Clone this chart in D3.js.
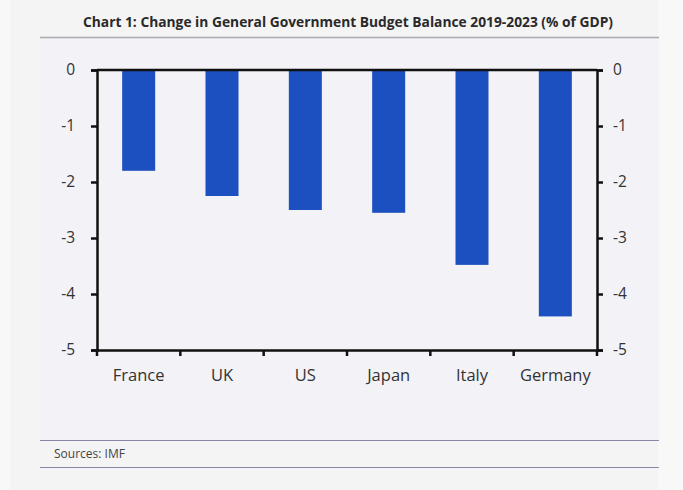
<!DOCTYPE html>
<html><head><meta charset="utf-8">
<script src="https://cdn.jsdelivr.net/npm/d3@7"></script>
<style>
html,body{margin:0;padding:0;background:#f8f8f8;}
svg{display:block;}
text{font-family:"Open Sans","Noto Sans",sans-serif;}
</style></head>
<body><svg id="c" width="683" height="490"></svg>
<script>
const categories = ["France","UK","US","Japan","Italy","Germany"];
const values = [-1.8,-2.25,-2.5,-2.55,-3.48,-4.4];
const yTicks = [0,-1,-2,-3,-4,-5];
const title = "Chart 1: Change in General Government Budget Balance 2019-2023 (% of GDP)";
const source = "Sources: IMF";

const svg = d3.select("#c");
const W=683,H=490;
svg.append("rect").attr("width",W).attr("height",H).attr("fill","#f8f8f8");
svg.append("rect").attr("x",10).attr("y",0).attr("width",648).attr("height",H).attr("fill","#f4f4f5");
svg.append("rect").attr("x",40).attr("y",38).attr("width",619).attr("height",402).attr("fill","#f2f2f7");

svg.append("text").attr("x",348).attr("y",27).attr("text-anchor","middle")
  .attr("font-size",13.8).attr("font-weight","bold").attr("fill","#2a2a2a")
  .attr("textLength",530).attr("lengthAdjust","spacingAndGlyphs")
  .text(title);
svg.append("line").attr("x1",40).attr("x2",659).attr("y1",37.5).attr("y2",37.5)
  .attr("stroke","#a9a9ae").attr("stroke-width",1.5);

const L=97,R=597,T=70,B=350;
const x = d3.scaleBand().domain(categories).range([L,R]).paddingInner(0).paddingOuter(0);
const y = d3.scaleLinear().domain([0,-5]).range([T,B]);
const bw = 33;

svg.append("g").selectAll("rect").data(values).join("rect")
  .attr("x",(d,i)=>x(categories[i])+x.bandwidth()/2-bw/2)
  .attr("width",bw)
  .attr("y",d=>y(0))
  .attr("height",d=>y(d)-y(0))
  .attr("fill","#1c4fbf");

// top line
svg.append("line").attr("x1",L).attr("x2",R).attr("y1",T).attr("y2",T).attr("stroke","#111").attr("stroke-width",2.5);

const fmt = d=>d===0?"0":"-"+Math.abs(d);
const yl = svg.append("g").attr("transform",`translate(${L},0)`)
  .call(d3.axisLeft(y).tickValues(yTicks).tickFormat(fmt).tickSize(6).tickPadding(16));
const yr = svg.append("g").attr("transform",`translate(${R},0)`)
  .call(d3.axisRight(y).tickValues(yTicks).tickFormat(fmt).tickSize(6).tickPadding(10));
const xa = svg.append("g").attr("transform",`translate(0,${B})`)
  .call(d3.axisBottom(x).tickSize(0).tickPadding(19));
// x ticks at band boundaries
const bounds = categories.map(c=>x(c)).concat([R]);
svg.append("g").selectAll("line").data(bounds).join("line")
  .attr("x1",d=>d).attr("x2",d=>d).attr("y1",B).attr("y2",B+6)
  .attr("stroke","#111").attr("stroke-width",2.5);

[yl,yr,xa].forEach(g=>{
  g.select(".domain").attr("stroke","#111").attr("stroke-width",2.5);
  g.selectAll(".tick line").attr("stroke","#111").attr("stroke-width",2.5);
  g.selectAll("text").attr("font-size",15.5).attr("fill","#333")
   .attr("font-family","'Open Sans',sans-serif");
});
xa.selectAll("text").attr("font-size",16.5);

svg.append("line").attr("x1",40).attr("x2",659).attr("y1",440.5).attr("y2",440.5)
  .attr("stroke","#8a86a6").attr("stroke-width",1.2);
svg.append("line").attr("x1",40).attr("x2",659).attr("y1",467.5).attr("y2",467.5)
  .attr("stroke","#8a86a6").attr("stroke-width",1.2);
svg.append("text").attr("x",54).attr("y",458).attr("font-size",12).attr("fill","#444")
  .text(source);
</script></body></html>
